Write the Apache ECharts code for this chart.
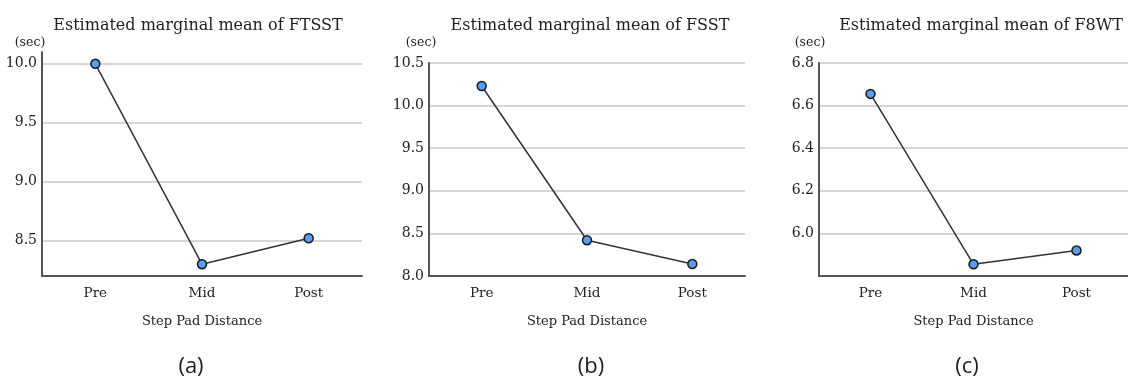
<!DOCTYPE html>
<html>
<head>
<meta charset="utf-8">
<script src="https://cdn.jsdelivr.net/npm/echarts@6/dist/echarts.min.js"></script>
<style>
  html, body { margin: 0; padding: 0; background: #fff; }
  #chart { width: 1128px; height: 379px; }
</style>
</head>
<body>
<div id="chart"></div>
<script>
// ---- data ----
const categories = ['Pre', 'Mid', 'Post'];
const ftsstValues = [10.00, 8.30, 8.52];
const fsstValues = [10.23, 8.42, 8.14];
const f8wtValues = [6.655, 5.855, 5.92];

const titles = ['Estimated marginal mean of FTSST', 'Estimated marginal mean of FSST', 'Estimated marginal mean of F8WT'];
const subcaptions = ['(a)', '(b)', '(c)'];
const ftsstTicks = [8.5, 9.0, 9.5, 10.0];
const fsstTicks = [8.0, 8.5, 9.0, 9.5, 10.0, 10.5];
const f8wtTicks = [6.0, 6.2, 6.4, 6.6, 6.8];
const xAxisName = 'Step Pad Distance';
const unitLabel = '(sec)';

// ---- layout ----
const serif = 'DejaVu Serif';
const panels = [
  { left: 42, width: 320, top: 52, height: 224, min: 8.2, max: 10.1, ticks: ftsstTicks, values: ftsstValues, titleX: 198, capX: 191, unitX: 30 },
  { left: 429, width: 316, top: 63, height: 213, min: 8.0, max: 10.5, ticks: fsstTicks, values: fsstValues, titleX: 590, capX: 591, unitX: 421 },
  { left: 819, width: 315, top: 63, height: 213, min: 5.8, max: 6.8, ticks: f8wtTicks, values: f8wtValues, titleX: 981, capX: 967, unitX: 810 }
];

const option = {
  animation: false,
  backgroundColor: '#ffffff',
  grid: [],
  xAxis: [],
  yAxis: [],
  series: [],
  graphic: []
};

panels.forEach((p, i) => {
  option.graphic.push({
    type: 'text',
    x: p.titleX,
    y: 26,
    style: { text: titles[i], font: '16px "DejaVu Serif"', fill: '#1e1e1e', align: 'center', verticalAlign: 'middle' }
  });
  option.graphic.push({
    type: 'text',
    x: p.capX,
    y: 367,
    style: { text: subcaptions[i], font: '22px "Open Sans"', fill: '#1e1e1e', align: 'center', verticalAlign: 'middle' }
  });
  option.graphic.push({
    type: 'text',
    x: p.unitX,
    y: 43,
    style: { text: unitLabel, font: '12.5px "DejaVu Serif"', fill: '#1e1e1e', align: 'center', verticalAlign: 'middle' }
  });
  option.grid.push({ left: p.left, width: p.width, top: p.top, height: p.height, containLabel: false });
  option.xAxis.push({
    type: 'category',
    gridIndex: i,
    data: categories,
    boundaryGap: true,
    name: xAxisName,
    nameLocation: 'middle',
    nameGap: 39,
    nameTextStyle: { fontFamily: serif, fontSize: 13, color: '#222' },
    axisLine: { lineStyle: { color: '#555', width: 2 } },
    axisTick: { show: false },
    axisLabel: { fontFamily: serif, fontSize: 13.5, color: '#222', margin: 10 },
    splitLine: { show: false }
  });
  option.yAxis.push({
    type: 'value',
    gridIndex: i,
    min: p.min,
    max: p.max,
    axisLine: { show: true, lineStyle: { color: '#555', width: 2 } },
    axisTick: { show: false, customValues: p.ticks },
    axisLabel: {
      customValues: p.ticks,
      fontFamily: serif, fontSize: 14, color: '#222', margin: 5,
      formatter: v => Number(v).toFixed(1)
    },
    splitLine: { show: true, lineStyle: { color: '#c8c8c8', width: 1.5 } }
  });
  option.series.push({
    type: 'line',
    xAxisIndex: i,
    yAxisIndex: i,
    data: p.values,
    symbol: 'circle',
    symbolSize: 9,
    lineStyle: { color: '#333', width: 1.5 },
    itemStyle: { color: '#559ef2', borderColor: '#1a1a1a', borderWidth: 1.5 },
    z: 3
  });
});

const chart = echarts.init(document.getElementById('chart'), null, { renderer: 'canvas' });
chart.setOption(option);
</script>
</body>
</html>
